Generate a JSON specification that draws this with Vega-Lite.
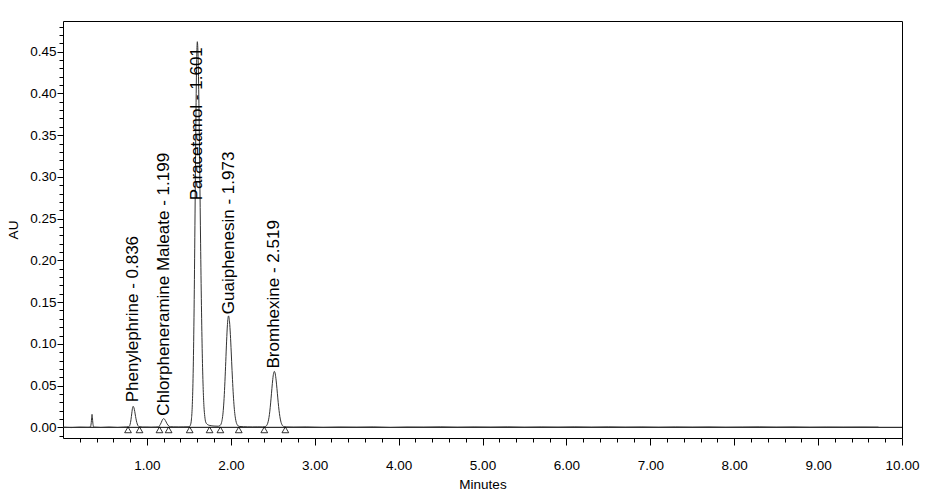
{
  "$schema": "https://vega.github.io/schema/vega-lite/v6.json",
  "width": 839,
  "height": 417,
  "autosize": {"type": "none"},
  "padding": {"left": 63, "top": 21, "right": 40, "bottom": 56},
  "background": "white",
  "config": {
    "view": {"stroke": "black", "strokeWidth": 1},
    "axis": {
      "domain": false,
      "grid": false,
      "labelFont": "Liberation Sans",
      "titleFont": "Liberation Sans",
      "labelFontSize": 13.5,
      "titleFontSize": 13.5,
      "titleFontWeight": "normal",
      "labelColor": "black",
      "titleColor": "black",
      "tickColor": "black"
    }
  },
  "datasets": {
    "signal": [
      {"t": 0, "au": 0.0002}, {"t": 0.1, "au": -0.0003}, {"t": 0.2, "au": 0.0002}, {"t": 0.3, "au": 0},
      {"t": 0.325, "au": 0.0003}, {"t": 0.335, "au": 0.004}, {"t": 0.342, "au": 0.012}, {"t": 0.346, "au": 0.0155},
      {"t": 0.35, "au": 0.012}, {"t": 0.356, "au": 0.005}, {"t": 0.364, "au": 0.001}, {"t": 0.375, "au": 0.0002},
      {"t": 0.45, "au": -0.0002}, {"t": 0.55, "au": 0.0003}, {"t": 0.65, "au": -0.0002}, {"t": 0.72, "au": 0.0002},
      {"t": 0.76, "au": 0.0004}, {"t": 0.78, "au": 0.0006}, {"t": 0.79, "au": 0.0012}, {"t": 0.8, "au": 0.0036},
      {"t": 0.81, "au": 0.009}, {"t": 0.82, "au": 0.017}, {"t": 0.83, "au": 0.0238}, {"t": 0.836, "au": 0.0252},
      {"t": 0.845, "au": 0.0236}, {"t": 0.855, "au": 0.019}, {"t": 0.865, "au": 0.013}, {"t": 0.875, "au": 0.0077},
      {"t": 0.885, "au": 0.004}, {"t": 0.895, "au": 0.0018}, {"t": 0.91, "au": 0.0007}, {"t": 0.95, "au": 0.0003},
      {"t": 1.0, "au": 0.0003}, {"t": 1.05, "au": 0.0001}, {"t": 1.1, "au": 0.0003}, {"t": 1.14, "au": 0.0005},
      {"t": 1.15, "au": 0.0019}, {"t": 1.16, "au": 0.0034}, {"t": 1.17, "au": 0.0055}, {"t": 1.18, "au": 0.0079},
      {"t": 1.19, "au": 0.0098}, {"t": 1.199, "au": 0.0104}, {"t": 1.21, "au": 0.0098}, {"t": 1.22, "au": 0.0082},
      {"t": 1.23, "au": 0.0063}, {"t": 1.24, "au": 0.0043}, {"t": 1.25, "au": 0.0028}, {"t": 1.26, "au": 0.0017},
      {"t": 1.28, "au": 0.0007}, {"t": 1.32, "au": 0.0005}, {"t": 1.38, "au": 0.0004}, {"t": 1.44, "au": 0.0005},
      {"t": 1.49, "au": 0.0006}, {"t": 1.51, "au": 0.0012}, {"t": 1.52, "au": 0.003}, {"t": 1.53, "au": 0.0088},
      {"t": 1.54, "au": 0.0241}, {"t": 1.55, "au": 0.0583}, {"t": 1.56, "au": 0.1211}, {"t": 1.57, "au": 0.2146},
      {"t": 1.58, "au": 0.3254}, {"t": 1.59, "au": 0.4196}, {"t": 1.601, "au": 0.462}, {"t": 1.61, "au": 0.4444},
      {"t": 1.62, "au": 0.3876}, {"t": 1.63, "au": 0.3066}, {"t": 1.64, "au": 0.2206}, {"t": 1.65, "au": 0.1462},
      {"t": 1.66, "au": 0.088}, {"t": 1.67, "au": 0.049}, {"t": 1.68, "au": 0.025}, {"t": 1.69, "au": 0.013},
      {"t": 1.7, "au": 0.0066}, {"t": 1.72, "au": 0.0035}, {"t": 1.75, "au": 0.0022}, {"t": 1.8, "au": 0.0015},
      {"t": 1.85, "au": 0.0013}, {"t": 1.86, "au": 0.0015}, {"t": 1.88, "au": 0.0031}, {"t": 1.89, "au": 0.0058},
      {"t": 1.9, "au": 0.011}, {"t": 1.91, "au": 0.02}, {"t": 1.92, "au": 0.0346}, {"t": 1.93, "au": 0.0547},
      {"t": 1.94, "au": 0.0788}, {"t": 1.95, "au": 0.1033}, {"t": 1.96, "au": 0.123}, {"t": 1.973, "au": 0.1335},
      {"t": 1.985, "au": 0.1263}, {"t": 1.995, "au": 0.111}, {"t": 2.005, "au": 0.0903}, {"t": 2.015, "au": 0.068},
      {"t": 2.025, "au": 0.0477}, {"t": 2.035, "au": 0.0311}, {"t": 2.045, "au": 0.0189}, {"t": 2.055, "au": 0.0109},
      {"t": 2.065, "au": 0.006}, {"t": 2.08, "au": 0.0026}, {"t": 2.1, "au": 0.0011}, {"t": 2.15, "au": 0.0007},
      {"t": 2.2, "au": 0.0005}, {"t": 2.26, "au": 0.0004}, {"t": 2.32, "au": 0.0005}, {"t": 2.38, "au": 0.0004},
      {"t": 2.4, "au": 0.0006}, {"t": 2.42, "au": 0.0014}, {"t": 2.43, "au": 0.0026}, {"t": 2.44, "au": 0.0049},
      {"t": 2.45, "au": 0.0089}, {"t": 2.46, "au": 0.0152}, {"t": 2.47, "au": 0.024}, {"t": 2.48, "au": 0.0349},
      {"t": 2.49, "au": 0.0467}, {"t": 2.5, "au": 0.0574}, {"t": 2.51, "au": 0.0647}, {"t": 2.519, "au": 0.067},
      {"t": 2.53, "au": 0.0639}, {"t": 2.54, "au": 0.0566}, {"t": 2.55, "au": 0.0464}, {"t": 2.56, "au": 0.0352},
      {"t": 2.57, "au": 0.0248}, {"t": 2.58, "au": 0.0163}, {"t": 2.59, "au": 0.0099}, {"t": 2.6, "au": 0.0057},
      {"t": 2.61, "au": 0.0031}, {"t": 2.63, "au": 0.001}, {"t": 2.66, "au": 0.0004}, {"t": 2.75, "au": 0.0002},
      {"t": 2.9, "au": 0.0004}, {"t": 3.1, "au": -0.0001}, {"t": 3.3, "au": 0.0003}, {"t": 3.5, "au": 0.0001},
      {"t": 3.7, "au": 0.0004}, {"t": 3.9, "au": -0.0002}, {"t": 4.1, "au": 0.0003}, {"t": 4.3, "au": 0.0002},
      {"t": 4.5, "au": 0.0005}, {"t": 4.7, "au": 0.0001}, {"t": 4.9, "au": 0.0004}, {"t": 5.1, "au": 0.0002},
      {"t": 5.3, "au": 0.0005}, {"t": 5.5, "au": 0.0001}, {"t": 5.7, "au": 0.0004}, {"t": 5.9, "au": 0.0002},
      {"t": 6.1, "au": 0.0005}, {"t": 6.3, "au": 0.0002}, {"t": 6.5, "au": 0.0005}, {"t": 6.7, "au": 0.0002},
      {"t": 6.9, "au": 0.0004}, {"t": 7.1, "au": 0.0001}, {"t": 7.3, "au": 0.0004}, {"t": 7.5, "au": 0.0002},
      {"t": 7.7, "au": 0.0004}, {"t": 7.9, "au": 0.0001}, {"t": 8.1, "au": 0.0003}, {"t": 8.3, "au": 0.0005},
      {"t": 8.5, "au": 0.0002}, {"t": 8.7, "au": 0.0004}, {"t": 8.9, "au": 0.0001}, {"t": 9.1, "au": 0.0003},
      {"t": 9.3, "au": 0.0002}, {"t": 9.5, "au": 0.0003}, {"t": 9.72, "au": 0.0002}
    ],
    "peaks": [
      {"label": "Phenylephrine - 0.836", "rt": 0.836, "ly": 0.03},
      {"label": "Chlorpheneramine Maleate - 1.199", "rt": 1.199, "ly": 0.014},
      {"label": "Paracetamol - 1.601", "rt": 1.601, "ly": 0.272},
      {"label": "Guaiphenesin - 1.973", "rt": 1.973, "ly": 0.1355},
      {"label": "Bromhexine - 2.519", "rt": 2.519, "ly": 0.0705}
    ],
    "marks": [
      {"t": 0.775, "au": -0.003}, {"t": 0.912, "au": -0.003}, {"t": 1.15, "au": -0.003}, {"t": 1.259, "au": -0.003},
      {"t": 1.51, "au": -0.003}, {"t": 1.747, "au": -0.003}, {"t": 1.876, "au": -0.003}, {"t": 2.095, "au": -0.003},
      {"t": 2.399, "au": -0.003}, {"t": 2.65, "au": -0.003}
    ],
    "base": [{"au": 0}]
  },
  "resolve": {"axis": {"x": "independent", "y": "independent"}},
  "layer": [
    {
      "data": {"name": "base"},
      "mark": {"type": "rule", "color": "black", "strokeWidth": 1},
      "encoding": {
        "y": {"field": "au", "type": "quantitative", "scale": {"domain": [-0.0128, 0.4868], "nice": false, "zero": false}, "axis": null}
      }
    },
    {
      "data": {"name": "signal"},
      "mark": {"type": "line", "color": "#333333", "strokeWidth": 1, "interpolate": "monotone"},
      "encoding": {
        "x": {"field": "t", "type": "quantitative", "scale": {"domain": [0, 10], "nice": false, "zero": false},
          "axis": {"orient": "bottom", "values": [1, 2, 3, 4, 5, 6, 7, 8, 9, 10], "format": ".2f", "tickSize": 7, "labelPadding": 13, "title": "Minutes", "titlePadding": 6, "labelFlush": false, "labelOverlap": false}},
        "y": {"field": "au", "type": "quantitative", "scale": {"domain": [-0.0128, 0.4868], "nice": false, "zero": false},
          "axis": {"orient": "left", "values": [0, 0.05, 0.1, 0.15, 0.2, 0.25, 0.3, 0.35, 0.4, 0.45], "format": ".2f", "tickSize": 6, "labelPadding": 1, "title": "AU", "titlePadding": 9, "labelFlush": false, "labelOverlap": false}}
      }
    },
    {
      "data": {"name": "marks"},
      "mark": {"type": "point", "shape": "triangle-up", "filled": false, "stroke": "black", "strokeWidth": 0.8, "size": 45, "opacity": 1},
      "encoding": {
        "x": {"field": "t", "type": "quantitative", "scale": {"domain": [0, 10], "nice": false, "zero": false},
          "axis": {"orient": "bottom", "values": [0.2, 0.4, 0.6, 0.8, 1.2, 1.4, 1.6, 1.8, 2.2, 2.4, 2.6, 2.8, 3.2, 3.4, 3.6, 3.8, 4.2, 4.4, 4.6, 4.8, 5.2, 5.4, 5.6, 5.8, 6.2, 6.4, 6.6, 6.8, 7.2, 7.4, 7.6, 7.8, 8.2, 8.4, 8.6, 8.8, 9.2, 9.4, 9.6, 9.8], "labels": false, "tickSize": 4, "title": null}},
        "y": {"field": "au", "type": "quantitative", "scale": {"domain": [-0.0128, 0.4868], "nice": false, "zero": false},
          "axis": {"orient": "left", "values": [-0.01, 0.01, 0.02, 0.03, 0.04, 0.06, 0.07, 0.08, 0.09, 0.11, 0.12, 0.13, 0.14, 0.16, 0.17, 0.18, 0.19, 0.21, 0.22, 0.23, 0.24, 0.26, 0.27, 0.28, 0.29, 0.31, 0.32, 0.33, 0.34, 0.36, 0.37, 0.38, 0.39, 0.41, 0.42, 0.43, 0.44, 0.46, 0.47, 0.48], "labels": false, "tickSize": 4, "title": null}}
      }
    },
    {
      "data": {"name": "peaks"},
      "mark": {"type": "text", "angle": 270, "align": "left", "baseline": "middle", "font": "Liberation Sans", "fontSize": 17, "color": "black"},
      "encoding": {
        "x": {"field": "rt", "type": "quantitative", "scale": {"domain": [0, 10], "nice": false, "zero": false}, "axis": null},
        "y": {"field": "ly", "type": "quantitative", "scale": {"domain": [-0.0128, 0.4868], "nice": false, "zero": false}, "axis": null},
        "text": {"field": "label"}
      }
    }
  ]
}
